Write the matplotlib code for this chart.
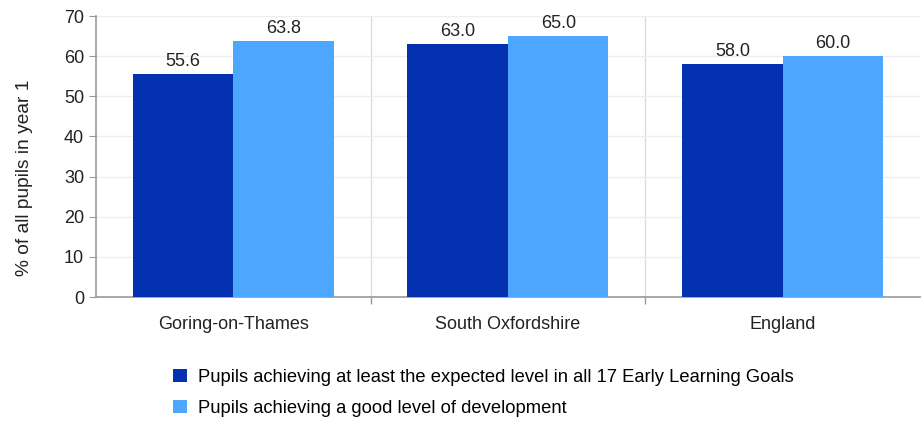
import matplotlib.pyplot as plt
import numpy as np

plt.rcParams['font.family'] = ['Liberation Sans', 'DejaVu Sans']

categories = ['Goring-on-Thames', 'South Oxfordshire', 'England']
expected_level = [55.6, 63.0, 58.0]
good_level = [63.8, 65.0, 60.0]
series_names = ['Pupils achieving at least the expected level in all 17 Early Learning Goals',
                'Pupils achieving a good level of development']
colors = ['#0431B0', '#4DA6FF']

fig = plt.figure(figsize=(9.21, 4.22), dpi=100)
ax = fig.add_axes([0.104, 0.296, 0.895, 0.666])

x = np.arange(len(categories))
w = 0.366
b1 = ax.bar(x - w/2, expected_level, w, color=colors[0], label=series_names[0], zorder=3)
b2 = ax.bar(x + w/2, good_level, w, color=colors[1], label=series_names[1], zorder=3)

for bars in (b1, b2):
    for r in bars:
        ax.text(r.get_x() + r.get_width()/2, r.get_height() + 1.0, f'{r.get_height():.1f}',
                ha='center', va='bottom', fontsize=13, color='#222222')

ax.set_xlim(-0.5, 2.5)
ax.set_ylim(0, 70)
ax.set_yticks(range(0, 71, 10))
ax.yaxis.grid(True, color='#eeeeee', linewidth=1, zorder=0)

# category separators
for sep in [0.5, 1.5]:
    ax.axvline(sep, color='#dddddd', linewidth=1, zorder=1)
ax.set_xticks([0.5, 1.5], minor=False)
ax.set_xticklabels(['', ''])
ax.tick_params(axis='x', length=5, color='#999999', width=1)
for i, c in enumerate(categories):
    ax.text(i, -4.8, c, ha='center', va='top', fontsize=13, color='#222222')

ax.tick_params(axis='y', length=5, color='#999999', labelsize=13, labelcolor='#222222')
ax.set_ylabel('% of all pupils in year 1', fontsize=13.8, color='#222222')
ax.yaxis.set_label_coords(-0.076, 0.423)

for s in ['top', 'right']:
    ax.spines[s].set_visible(False)
for s in ['left', 'bottom']:
    ax.spines[s].set_color('#999999')
    ax.spines[s].set_linewidth(1.2)

fig.legend(handles=[b1, b2], loc='upper left', bbox_to_anchor=(0.188, 0.126), frameon=False,
           fontsize=13.2, handlelength=0.75, handleheight=0.75, handletextpad=0.6,
           labelspacing=0.75, borderaxespad=0, borderpad=0)

fig.savefig('out.png', dpi=100)
